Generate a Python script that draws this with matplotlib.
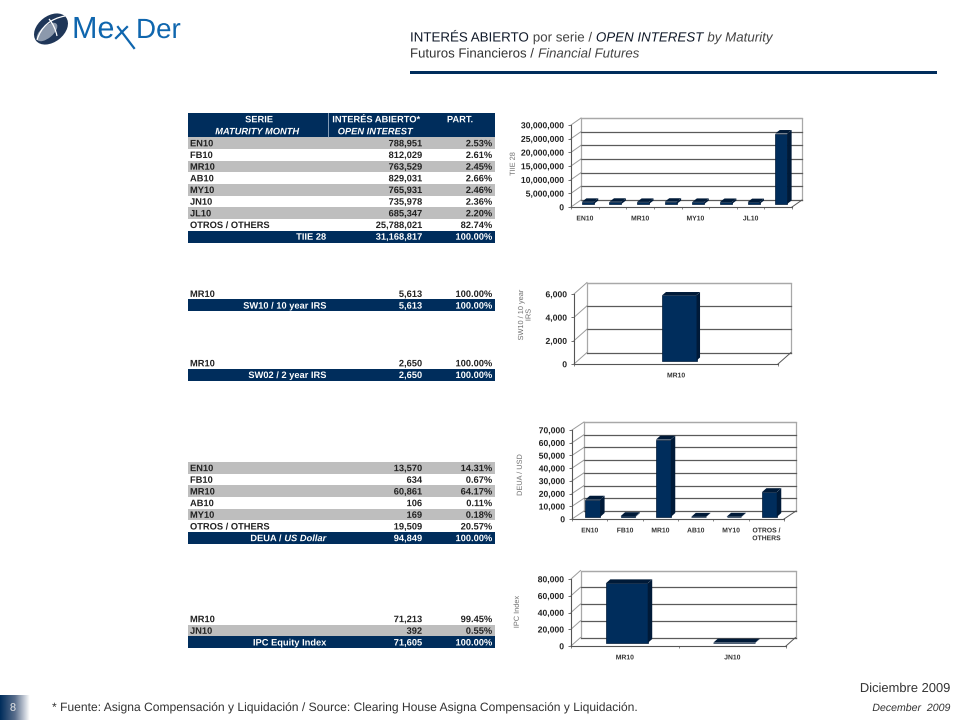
import matplotlib
matplotlib.use('Agg')
import matplotlib.pyplot as plt
import matplotlib.patheffects as pe
import numpy as np
from matplotlib.patches import Ellipse, Rectangle, PathPatch
from matplotlib.path import Path

plt.rcParams['font.family'] = ['Liberation Sans', 'DejaVu Sans']
plt.rcParams['text.hinting'] = 'no_hinting'
# text drawn as outlines keeps table rows on one level
plt.rcParams['path.effects'] = [pe.Normal()]

NAVY = '#002D5C'
BAR_SIDE = '#001A38'
GRAY_ROW = '#BEBEBE'
TEXT = '#222222'

# table data
tiie_labels = ['EN10', 'FB10', 'MR10', 'AB10', 'MY10', 'JN10', 'JL10', 'OTROS / OTHERS']
tiie_values = [788951, 812029, 763529, 829031, 765931, 735978, 685347, 25788021]
tiie_pct = [2.53, 2.61, 2.45, 2.66, 2.46, 2.36, 2.20, 82.74]
tiie_total = 31168817

sw10_labels = ['MR10']
sw10_values = [5613]
sw10_pct = [100.00]
sw10_total = 5613

sw02_labels = ['MR10']
sw02_values = [2650]
sw02_pct = [100.00]
sw02_total = 2650

deua_labels = ['EN10', 'FB10', 'MR10', 'AB10', 'MY10', 'OTROS / OTHERS']
deua_values = [13570, 634, 60861, 106, 169, 19509]
deua_pct = [14.31, 0.67, 64.17, 0.11, 0.18, 20.57]
deua_total = 94849

ipc_labels = ['MR10', 'JN10']
ipc_values = [71213, 392]
ipc_pct = [99.45, 0.55]
ipc_total = 71605

# chart axis labels
tiie_xticks = ['EN10', '', 'MR10', '', 'MY10', '', 'JL10', '']
sw10_xticks = ['MR10']
deua_xticks = ['EN10', 'FB10', 'MR10', 'AB10', 'MY10', 'OTROS /\nOTHERS']
ipc_xticks = ['MR10', 'JN10']
tiie_yticks = [0, 5000000, 10000000, 15000000, 20000000, 25000000, 30000000]
sw10_yticks = [0, 2000, 4000, 6000]
deua_yticks = [0, 10000, 20000, 30000, 40000, 50000, 60000, 70000]
ipc_yticks = [0, 20000, 40000, 60000, 80000]

fig = plt.figure(figsize=(9.6, 7.2), dpi=100)

# full page axes in pixel coordinates, y pointing down
page = fig.add_axes([0, 0, 1, 1])
page.set_xlim(0, 960)
page.set_ylim(720, 0)
page.axis('off')


def cell(x, y, s, ha, color, style='normal'):
    # y is the middle of the capitals, text sits on its baseline so rows stay level
    return page.text(x, y + 3.3, s, ha=ha, va='baseline', fontsize=6.7, fontweight='bold',
                     fontstyle=style, color=color)


def draw_table(top, labels, values, pct, total, name, gray_first=True, italic=None):
    h = 11.67
    for i in range(len(labels)):
        if (i % 2 == 0) == gray_first:
            page.add_patch(Rectangle((188, top + i * h), 307, h, color=GRAY_ROW, lw=0))
        yc = top + (i + 0.5) * h
        cell(190, yc, labels[i], 'left', TEXT)
        cell(422, yc, f'{values[i]:,}', 'right', TEXT)
        cell(492, yc, f'{pct[i]:.2f}%', 'right', TEXT)
    y = top + len(labels) * h
    page.add_patch(Rectangle((188, y), 307, h + 0.3, color=NAVY, lw=0))
    yc = y + h / 2
    if italic:
        t = cell(326, yc, italic, 'right', 'white', 'italic')
        fig.canvas.draw()
        w = t.get_window_extent().width
        cell(326 - w - 3, yc, name, 'right', 'white')
    else:
        cell(326, yc, name, 'right', 'white')
    cell(422, yc, f'{total:,}', 'right', 'white')
    cell(492, yc, '100.00%', 'right', 'white')


# first table has the two line header
page.add_patch(Rectangle((188, 113), 307, 24.2, color=NAVY, lw=0))
page.plot([328, 328], [113, 137], color='#9FB2C8', lw=0.6)
cell(259, 119, 'SERIE', 'center', 'white')
cell(257, 131, 'MATURITY MONTH', 'center', 'white', 'italic')
cell(376, 119, 'INTERÉS ABIERTO*', 'center', 'white')
cell(375, 131, 'OPEN INTEREST', 'center', 'white', 'italic')
cell(460, 119, 'PART.', 'center', 'white')

draw_table(137.2, tiie_labels, tiie_values, tiie_pct, tiie_total, 'TIIE 28')
draw_table(287.8, sw10_labels, sw10_values, sw10_pct, sw10_total, 'SW10 / 10 year IRS', gray_first=False)
draw_table(357.2, sw02_labels, sw02_values, sw02_pct, sw02_total, 'SW02 / 2 year IRS', gray_first=False)
draw_table(462, deua_labels, deua_values, deua_pct, deua_total, 'DEUA /', italic='US Dollar')
draw_table(613, ipc_labels, ipc_values, ipc_pct, ipc_total, 'IPC Equity Index', gray_first=False)


def draw_chart(x0, x1, y_bottom, y_top, ddx, ddy, values, xticks, yticks, ylabel, ylabel_pos,
               bar_frac, bar_dx, bar_dy, lift_x, lift_y):
    # x0..x1, y_bottom, y_top: front plane in pixels, ddx/ddy: depth of the floor in pixels
    ax = fig.add_axes([x0 / 960, 1 - y_bottom / 720, (x1 - x0) / 960, (y_bottom - y_top) / 720])
    n = len(values)
    ymax = yticks[-1]
    ax.set_xlim(0, n)
    ax.set_ylim(0, ymax)
    ax.patch.set_visible(False)
    for s in ['top', 'right']:
        ax.spines[s].set_visible(False)
    for s in ['left', 'bottom']:
        ax.spines[s].set_color('#555555')
        ax.spines[s].set_linewidth(0.8)

    px = n / (x1 - x0)
    py = ymax / (y_bottom - y_top)
    dx = ddx * px
    dy = ddy * py

    # back wall, side wall and floor
    ax.plot([dx, dx, n + dx, n + dx], [dy, ymax + dy, ymax + dy, dy], color='#A8A8A8', lw=0.9, clip_on=False)
    for t in yticks:
        gc = '#A8A8A8' if t == ymax else '#5A5A5A'
        ax.plot([dx, n + dx], [t + dy, t + dy], color=gc, lw=0.9, clip_on=False)
        ax.plot([0, dx], [t, t + dy], color='#9A9A9A', lw=0.7, clip_on=False)
    ax.plot([n, n + dx], [0, dy], color='#555555', lw=0.7, clip_on=False)

    # bars, front face sits a little way back on the floor
    xs = np.arange(n) + 0.5 + lift_x * px
    w = bar_frac
    base = lift_y * py
    ax.bar(xs, values, width=w, bottom=base, color=NAVY, edgecolor=BAR_SIDE, linewidth=0.5, clip_on=False, zorder=3)
    bx = bar_dx * px
    by = bar_dy * py
    for xc, v in zip(xs, values):
        top = base + v
        ax.fill([xc - w / 2, xc + w / 2, xc + w / 2 + bx, xc - w / 2 + bx],
                [top, top, top + by, top + by], color=BAR_SIDE, lw=0, clip_on=False, zorder=3)
        ax.fill([xc + w / 2, xc + w / 2 + bx, xc + w / 2 + bx, xc + w / 2],
                [base, base + by, top + by, top], color=BAR_SIDE, lw=0, clip_on=False, zorder=3)

    ax.set_yticks(yticks)
    ax.set_yticklabels([f'{t:,}' for t in yticks], fontsize=6.2, fontweight='bold', color=TEXT)
    ax.set_xticks(np.arange(n) + 0.5)
    ax.set_xticklabels(xticks, fontsize=4.9, fontweight='bold', color='#333333', linespacing=1.25)
    ax.set_xticks(np.arange(n + 1), minor=True)
    ax.tick_params(axis='y', length=2, width=0.6, pad=3, color='#555555')
    ax.tick_params(axis='x', which='major', length=0, pad=6)
    ax.tick_params(axis='x', which='minor', length=1.5, width=0.5, color='#555555')
    page.text(ylabel_pos[0], ylabel_pos[1], ylabel, rotation=90, ha='center', va='center',
              fontsize=5.3, color='#6E6E6E', multialignment='center', linespacing=1.2)
    return ax


draw_chart(571, 792, 207, 125, 10, 7, tiie_values, tiie_xticks, tiie_yticks, 'TIIE 28', (513, 164),
           0.43, 4.5, 3.5, 3, 3)
draw_chart(574, 778, 364, 294, 13, 11.5, sw10_values, sw10_xticks, sw10_yticks, 'SW10 / 10 year\nIRS', (525, 315),
           0.167, 3.5, 3, 3.5, 3.5)
draw_chart(572, 784, 519, 430, 12, 8, deua_values, deua_xticks, deua_yticks, 'DEUA / USD', (520, 475),
           0.42, 4.5, 4, 3, 2)
draw_chart(571, 786, 646, 579, 9.5, 8.5, ipc_values, ipc_xticks, ipc_yticks, 'IPC Index', (517, 612),
           0.39, 4.5, 4, 2, 3)


def chain_text(x, y, pieces, size):
    # pieces of (text, style, color) written one after the other on a line
    for s, style, color in pieces:
        t = page.text(x, y, s, ha='left', va='baseline', fontsize=size, fontstyle=style, color=color)
        fig.canvas.draw()
        x += t.get_window_extent().width + size * 0.38


# header
chain_text(410, 41.5, [('INTERÉS ABIERTO', 'normal', '#111A2A'), ('por serie /', 'normal', '#444444'),
                       ('OPEN INTEREST', 'italic', '#111A2A'), ('by Maturity', 'italic', '#444444')], 9.6)
chain_text(410, 57.5, [('Futuros Financieros /', 'normal', '#333333'), ('Financial Futures', 'italic', '#444444')], 9.5)
page.add_patch(Rectangle((410, 71), 527, 3, color=NAVY, lw=0))

# logo
page.add_patch(Ellipse((51, 29), 38, 26, angle=-38, color='#1F3658', lw=0))
page.add_patch(Ellipse((47, 32), 25, 12, angle=-40, color='#8C99AC', lw=0))
page.add_patch(PathPatch(Path([(37, 40), (43, 20), (65, 16)], [Path.MOVETO, Path.CURVE3, Path.CURVE3]),
                         fc='none', ec='white', lw=0.9))
page.add_patch(PathPatch(Path([(49, 19), (55, 26), (57, 36)], [Path.MOVETO, Path.CURVE3, Path.CURVE3]),
                         fc='none', ec='white', lw=0.9))
page.text(72, 38, 'Me', ha='left', va='baseline', fontsize=22, color='#0F66AE')
page.text(136, 38, 'Der', ha='left', va='baseline', fontsize=20, color='#0F66AE')
page.plot([118, 134], [27, 48], color='#0F66AE', lw=1.6)
page.plot([116, 127], [38, 27], color='#0F66AE', lw=1.6)

# footer
tab = np.linspace(0, 1, 60).reshape(1, -1)
page.imshow(tab, extent=[0, 30, 720, 695], aspect='auto', zorder=1,
            cmap=matplotlib.colors.LinearSegmentedColormap.from_list('tab', [NAVY, '#5A6E8C', '#FFFFFF']))
page.set_xlim(0, 960)
page.set_ylim(720, 0)
page.text(13, 708, '8', ha='center', va='center', fontsize=8, color='#E8E8E8', zorder=2)
page.text(52, 711, '* Fuente: Asigna Compensación y Liquidación / Source: Clearing House Asigna Compensación y Liquidación.',
          ha='left', va='baseline', fontsize=8.7, color='#333333')
page.text(950, 692, 'Diciembre 2009', ha='right', va='baseline', fontsize=9.3, color='#333333')
page.text(950, 711, 'December  2009', ha='right', va='baseline', fontsize=7.6, fontstyle='italic', color='#333333')

fig.savefig('out.png', dpi=100)
